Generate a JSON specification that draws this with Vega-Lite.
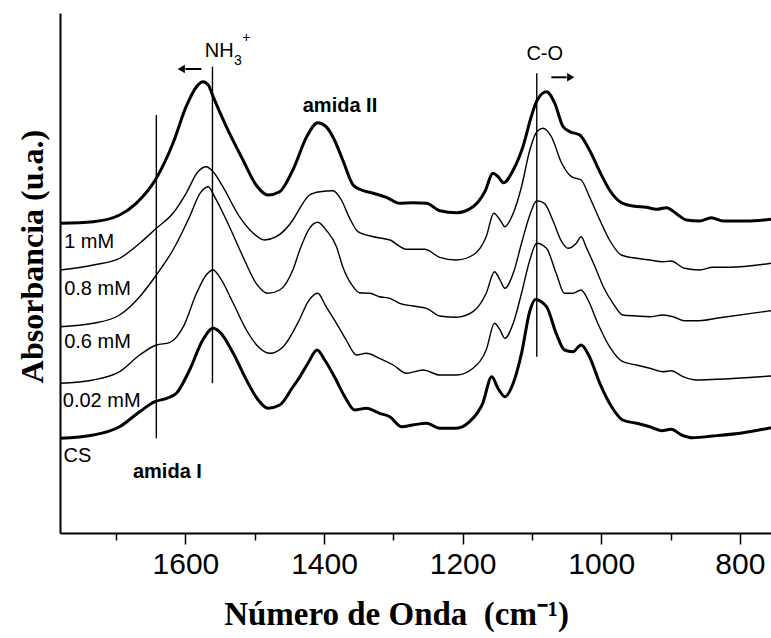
{
  "$schema": "https://vega.github.io/schema/vega-lite/v6.json",
  "width": 711,
  "height": 520,
  "autosize": {"type": "none"},
  "padding": {"left": 60, "top": 13, "right": 0, "bottom": 105},
  "background": "white",
  "config": {"view": {"stroke": null}},
  "datasets": {
    "spectra": [
      {"s":"1 mM","x":1781,"y":309.7},{"s":"1 mM","x":1733,"y":311.3},{"s":"1 mM","x":1695,"y":318},{"s":"1 mM","x":1671,"y":329.7},{"s":"1 mM","x":1642,"y":354.7},{"s":"1 mM","x":1618,"y":389.7},{"s":"1 mM","x":1599,"y":426.3},{"s":"1 mM","x":1584,"y":446.3},{"s":"1 mM","x":1575,"y":451.3},{"s":"1 mM","x":1567,"y":448},{"s":"1 mM","x":1560,"y":436.3},{"s":"1 mM","x":1541,"y":406.3},{"s":"1 mM","x":1517,"y":373},{"s":"1 mM","x":1498,"y":348},{"s":"1 mM","x":1481,"y":338},{"s":"1 mM","x":1464,"y":341.3},{"s":"1 mM","x":1445,"y":363},{"s":"1 mM","x":1425,"y":396.3},{"s":"1 mM","x":1409,"y":410.3},{"s":"1 mM","x":1397,"y":406.3},{"s":"1 mM","x":1385,"y":393},{"s":"1 mM","x":1373,"y":373},{"s":"1 mM","x":1358,"y":348},{"s":"1 mM","x":1346,"y":343},{"s":"1 mM","x":1329,"y":339.7},{"s":"1 mM","x":1310,"y":335.7},{"s":"1 mM","x":1291,"y":329.7},{"s":"1 mM","x":1272,"y":330.3},{"s":"1 mM","x":1252,"y":329.7},{"s":"1 mM","x":1233,"y":322.3},{"s":"1 mM","x":1209,"y":320.3},{"s":"1 mM","x":1185,"y":326.3},{"s":"1 mM","x":1168,"y":341.3},{"s":"1 mM","x":1156,"y":359.7},{"s":"1 mM","x":1149,"y":356.3},{"s":"1 mM","x":1141,"y":350.3},{"s":"1 mM","x":1127,"y":363},{"s":"1 mM","x":1113,"y":386.3},{"s":"1 mM","x":1101,"y":416.3},{"s":"1 mM","x":1093,"y":432},{"s":"1 mM","x":1079,"y":441.3},{"s":"1 mM","x":1067,"y":429.7},{"s":"1 mM","x":1055,"y":406.3},{"s":"1 mM","x":1045,"y":401.3},{"s":"1 mM","x":1031,"y":398},{"s":"1 mM","x":1017,"y":383},{"s":"1 mM","x":1002,"y":361.3},{"s":"1 mM","x":988,"y":343},{"s":"1 mM","x":973,"y":331.3},{"s":"1 mM","x":954,"y":327},{"s":"1 mM","x":935,"y":325.7},{"s":"1 mM","x":920,"y":323.7},{"s":"1 mM","x":906,"y":325.3},{"s":"1 mM","x":891,"y":319},{"s":"1 mM","x":877,"y":313},{"s":"1 mM","x":858,"y":312},{"s":"1 mM","x":841,"y":315.3},{"s":"1 mM","x":824,"y":312},{"s":"1 mM","x":790,"y":312},{"s":"1 mM","x":755,"y":313.7},
      {"s":"0.8 mM","x":1781,"y":263},{"s":"0.8 mM","x":1733,"y":268},{"s":"0.8 mM","x":1695,"y":274.7},{"s":"0.8 mM","x":1666,"y":289.7},{"s":"0.8 mM","x":1642,"y":304.7},{"s":"0.8 mM","x":1618,"y":319.7},{"s":"0.8 mM","x":1599,"y":339.7},{"s":"0.8 mM","x":1582,"y":361.3},{"s":"0.8 mM","x":1570,"y":366.3},{"s":"0.8 mM","x":1560,"y":361.3},{"s":"0.8 mM","x":1546,"y":346.3},{"s":"0.8 mM","x":1522,"y":316.3},{"s":"0.8 mM","x":1502,"y":299.7},{"s":"0.8 mM","x":1486,"y":293},{"s":"0.8 mM","x":1469,"y":296.3},{"s":"0.8 mM","x":1445,"y":313},{"s":"0.8 mM","x":1435,"y":324.7},{"s":"0.8 mM","x":1421,"y":338},{"s":"0.8 mM","x":1406,"y":341.3},{"s":"0.8 mM","x":1387,"y":342.3},{"s":"0.8 mM","x":1375,"y":333},{"s":"0.8 mM","x":1363,"y":314.7},{"s":"0.8 mM","x":1351,"y":301.3},{"s":"0.8 mM","x":1329,"y":296.3},{"s":"0.8 mM","x":1305,"y":293},{"s":"0.8 mM","x":1281,"y":283.7},{"s":"0.8 mM","x":1255,"y":283.7},{"s":"0.8 mM","x":1233,"y":275.7},{"s":"0.8 mM","x":1209,"y":273},{"s":"0.8 mM","x":1185,"y":278},{"s":"0.8 mM","x":1166,"y":296.3},{"s":"0.8 mM","x":1155,"y":319.7},{"s":"0.8 mM","x":1146,"y":313},{"s":"0.8 mM","x":1139,"y":306.3},{"s":"0.8 mM","x":1127,"y":319.7},{"s":"0.8 mM","x":1115,"y":346.3},{"s":"0.8 mM","x":1103,"y":383},{"s":"0.8 mM","x":1093,"y":401.3},{"s":"0.8 mM","x":1084,"y":404.7},{"s":"0.8 mM","x":1072,"y":396.3},{"s":"0.8 mM","x":1057,"y":369.7},{"s":"0.8 mM","x":1043,"y":356.3},{"s":"0.8 mM","x":1029,"y":353},{"s":"0.8 mM","x":1017,"y":336.3},{"s":"0.8 mM","x":1002,"y":313},{"s":"0.8 mM","x":988,"y":293},{"s":"0.8 mM","x":971,"y":278},{"s":"0.8 mM","x":949,"y":274.7},{"s":"0.8 mM","x":930,"y":273},{"s":"0.8 mM","x":911,"y":271.3},{"s":"0.8 mM","x":899,"y":272},{"s":"0.8 mM","x":880,"y":264.7},{"s":"0.8 mM","x":858,"y":263},{"s":"0.8 mM","x":839,"y":265.7},{"s":"0.8 mM","x":815,"y":265.7},{"s":"0.8 mM","x":755,"y":269.7},
      {"s":"0.6 mM","x":1781,"y":206.3},{"s":"0.6 mM","x":1733,"y":209.7},{"s":"0.6 mM","x":1695,"y":218},{"s":"0.6 mM","x":1666,"y":236.3},{"s":"0.6 mM","x":1642,"y":258},{"s":"0.6 mM","x":1618,"y":283},{"s":"0.6 mM","x":1594,"y":316.3},{"s":"0.6 mM","x":1579,"y":339.7},{"s":"0.6 mM","x":1567,"y":346.3},{"s":"0.6 mM","x":1558,"y":336.3},{"s":"0.6 mM","x":1541,"y":313},{"s":"0.6 mM","x":1517,"y":276.3},{"s":"0.6 mM","x":1498,"y":249.7},{"s":"0.6 mM","x":1481,"y":239.7},{"s":"0.6 mM","x":1464,"y":243},{"s":"0.6 mM","x":1445,"y":263},{"s":"0.6 mM","x":1435,"y":283},{"s":"0.6 mM","x":1421,"y":304.7},{"s":"0.6 mM","x":1409,"y":310.7},{"s":"0.6 mM","x":1397,"y":303},{"s":"0.6 mM","x":1382,"y":286.3},{"s":"0.6 mM","x":1373,"y":266.3},{"s":"0.6 mM","x":1358,"y":246.3},{"s":"0.6 mM","x":1349,"y":240.3},{"s":"0.6 mM","x":1334,"y":239.7},{"s":"0.6 mM","x":1320,"y":236.3},{"s":"0.6 mM","x":1305,"y":234.7},{"s":"0.6 mM","x":1291,"y":229.7},{"s":"0.6 mM","x":1272,"y":227},{"s":"0.6 mM","x":1252,"y":224.7},{"s":"0.6 mM","x":1233,"y":217},{"s":"0.6 mM","x":1209,"y":215.7},{"s":"0.6 mM","x":1185,"y":221.3},{"s":"0.6 mM","x":1166,"y":239.7},{"s":"0.6 mM","x":1154,"y":261.3},{"s":"0.6 mM","x":1146,"y":253},{"s":"0.6 mM","x":1139,"y":244.7},{"s":"0.6 mM","x":1127,"y":259.7},{"s":"0.6 mM","x":1115,"y":289.7},{"s":"0.6 mM","x":1103,"y":318},{"s":"0.6 mM","x":1093,"y":332.2},{"s":"0.6 mM","x":1082,"y":329.7},{"s":"0.6 mM","x":1070,"y":313},{"s":"0.6 mM","x":1057,"y":291.3},{"s":"0.6 mM","x":1048,"y":284.7},{"s":"0.6 mM","x":1036,"y":289.7},{"s":"0.6 mM","x":1029,"y":296.3},{"s":"0.6 mM","x":1021,"y":284.7},{"s":"0.6 mM","x":1009,"y":266.3},{"s":"0.6 mM","x":997,"y":246.3},{"s":"0.6 mM","x":983,"y":229.7},{"s":"0.6 mM","x":969,"y":218},{"s":"0.6 mM","x":949,"y":217},{"s":"0.6 mM","x":930,"y":216.3},{"s":"0.6 mM","x":911,"y":218},{"s":"0.6 mM","x":896,"y":216.3},{"s":"0.6 mM","x":880,"y":212.3},{"s":"0.6 mM","x":858,"y":212.3},{"s":"0.6 mM","x":834,"y":214.7},{"s":"0.6 mM","x":755,"y":222.3},
      {"s":"0.02 mM","x":1781,"y":149.7},{"s":"0.02 mM","x":1733,"y":153},{"s":"0.02 mM","x":1695,"y":161.3},{"s":"0.02 mM","x":1666,"y":178},{"s":"0.02 mM","x":1642,"y":188},{"s":"0.02 mM","x":1623,"y":190.3},{"s":"0.02 mM","x":1603,"y":206.3},{"s":"0.02 mM","x":1584,"y":239.7},{"s":"0.02 mM","x":1570,"y":258},{"s":"0.02 mM","x":1560,"y":263},{"s":"0.02 mM","x":1551,"y":256.3},{"s":"0.02 mM","x":1531,"y":229.7},{"s":"0.02 mM","x":1512,"y":203},{"s":"0.02 mM","x":1495,"y":186.3},{"s":"0.02 mM","x":1478,"y":179.7},{"s":"0.02 mM","x":1459,"y":186.3},{"s":"0.02 mM","x":1435,"y":214},{"s":"0.02 mM","x":1423,"y":231.3},{"s":"0.02 mM","x":1409,"y":239.7},{"s":"0.02 mM","x":1397,"y":226.3},{"s":"0.02 mM","x":1382,"y":209.7},{"s":"0.02 mM","x":1368,"y":193},{"s":"0.02 mM","x":1353,"y":178},{"s":"0.02 mM","x":1339,"y":179.7},{"s":"0.02 mM","x":1320,"y":174.7},{"s":"0.02 mM","x":1300,"y":168},{"s":"0.02 mM","x":1281,"y":159.7},{"s":"0.02 mM","x":1257,"y":163},{"s":"0.02 mM","x":1233,"y":158},{"s":"0.02 mM","x":1209,"y":158},{"s":"0.02 mM","x":1185,"y":164.7},{"s":"0.02 mM","x":1166,"y":183},{"s":"0.02 mM","x":1154,"y":209.7},{"s":"0.02 mM","x":1146,"y":203},{"s":"0.02 mM","x":1139,"y":194.7},{"s":"0.02 mM","x":1127,"y":209.7},{"s":"0.02 mM","x":1115,"y":239.7},{"s":"0.02 mM","x":1103,"y":273},{"s":"0.02 mM","x":1093,"y":289.7},{"s":"0.02 mM","x":1079,"y":284.7},{"s":"0.02 mM","x":1065,"y":259.7},{"s":"0.02 mM","x":1053,"y":239.7},{"s":"0.02 mM","x":1041,"y":239.7},{"s":"0.02 mM","x":1029,"y":243},{"s":"0.02 mM","x":1019,"y":233},{"s":"0.02 mM","x":1005,"y":209.7},{"s":"0.02 mM","x":988,"y":186.3},{"s":"0.02 mM","x":969,"y":171.3},{"s":"0.02 mM","x":949,"y":168},{"s":"0.02 mM","x":930,"y":164.7},{"s":"0.02 mM","x":911,"y":161.3},{"s":"0.02 mM","x":899,"y":162.3},{"s":"0.02 mM","x":882,"y":156.3},{"s":"0.02 mM","x":863,"y":153},{"s":"0.02 mM","x":834,"y":153.7},{"s":"0.02 mM","x":755,"y":157},
      {"s":"CS","x":1781,"y":94.7},{"s":"CS","x":1733,"y":98},{"s":"CS","x":1695,"y":106.3},{"s":"CS","x":1666,"y":121.3},{"s":"CS","x":1644,"y":131.3},{"s":"CS","x":1627,"y":134.7},{"s":"CS","x":1613,"y":139.7},{"s":"CS","x":1594,"y":163},{"s":"CS","x":1575,"y":193},{"s":"CS","x":1560,"y":204.7},{"s":"CS","x":1551,"y":201.3},{"s":"CS","x":1531,"y":179.7},{"s":"CS","x":1512,"y":153},{"s":"CS","x":1495,"y":133},{"s":"CS","x":1481,"y":124.7},{"s":"CS","x":1464,"y":128},{"s":"CS","x":1445,"y":146},{"s":"CS","x":1435,"y":156},{"s":"CS","x":1423,"y":170},{"s":"CS","x":1410,"y":183},{"s":"CS","x":1399,"y":173},{"s":"CS","x":1385,"y":156.3},{"s":"CS","x":1370,"y":136.3},{"s":"CS","x":1356,"y":123},{"s":"CS","x":1339,"y":124.7},{"s":"CS","x":1320,"y":119.7},{"s":"CS","x":1305,"y":116.3},{"s":"CS","x":1288,"y":106.3},{"s":"CS","x":1272,"y":108},{"s":"CS","x":1252,"y":109.7},{"s":"CS","x":1233,"y":104.7},{"s":"CS","x":1209,"y":104.7},{"s":"CS","x":1190,"y":111.3},{"s":"CS","x":1171,"y":129.7},{"s":"CS","x":1158,"y":156.3},{"s":"CS","x":1149,"y":144.7},{"s":"CS","x":1139,"y":136.3},{"s":"CS","x":1127,"y":149.7},{"s":"CS","x":1115,"y":179.7},{"s":"CS","x":1103,"y":222},{"s":"CS","x":1095,"y":233.5},{"s":"CS","x":1079,"y":226.3},{"s":"CS","x":1065,"y":199.7},{"s":"CS","x":1053,"y":183},{"s":"CS","x":1041,"y":181.3},{"s":"CS","x":1029,"y":188},{"s":"CS","x":1017,"y":176.3},{"s":"CS","x":1002,"y":149.7},{"s":"CS","x":985,"y":126.3},{"s":"CS","x":969,"y":113},{"s":"CS","x":949,"y":109.7},{"s":"CS","x":930,"y":106.3},{"s":"CS","x":913,"y":102.3},{"s":"CS","x":899,"y":103.7},{"s":"CS","x":884,"y":98},{"s":"CS","x":868,"y":95.3},{"s":"CS","x":839,"y":97},{"s":"CS","x":795,"y":100.3},{"s":"CS","x":755,"y":105.3}
    ],
    "vlines": [
      {"x":1642,"y":94.7,"y2":418},
      {"x":1561,"y":149.7,"y2":466.3},
      {"x":1093,"y":176.3,"y2":459.7}
    ],
    "shafts": [
      {"x":1577,"x2":1600,"y":464},
      {"x":1072,"x2":1050,"y":455.7}
    ],
    "heads": [
      {"dir":"left","x":1606,"y":464},
      {"dir":"right","x":1044,"y":455.7}
    ],
    "serieslabels": [
      {"t":"1 mM","x":1775,"y":285},
      {"t":"0.8 mM","x":1775,"y":238},
      {"t":"0.6 mM","x":1775,"y":185},
      {"t":"0.02 mM","x":1777,"y":126},
      {"t":"CS","x":1776,"y":71}
    ],
    "bands": [
      {"t":"amida II","x":1377,"y":421},
      {"t":"amida I","x":1626,"y":55}
    ],
    "peaks": [
      {"t":"NH","x":1572,"y":476},
      {"t":"C-O","x":1108,"y":473}
    ],
    "scripts": [
      {"t":"3","x":1530,"y":468},
      {"t":"+","x":1518,"y":491}
    ]
  },
  "layer": [
    {
      "data": {"name": "spectra"},
      "transform": [{"filter": {"field": "s", "oneOf": ["0.8 mM", "0.6 mM", "0.02 mM"]}}],
      "mark": {"type": "line", "color": "black", "strokeWidth": 1.4, "interpolate": "monotone"},
      "encoding": {
        "x": {"field": "x", "type": "quantitative",
          "scale": {"domain": [755, 1781], "reverse": true, "nice": false, "zero": false},
          "axis": {
            "title": "Número de Onda\u00a0\u00a0(cm⁻¹)",
            "titleFont": "Liberation Serif", "titleFontWeight": "bold", "titleFontSize": 33, "titleColor": "black",
            "titleX": 336, "titleY": 91, "titleAlign": "center", "titleBaseline": "alphabetic", "titleAnchor": null,
            "values": [1700, 1600, 1500, 1400, 1300, 1200, 1100, 1000, 900, 800],
            "labelExpr": "datum.value % 200 === 0 ? datum.label : ''",
            "labelFont": "Liberation Sans", "labelFontSize": 30, "labelColor": "black", "labelPadding": 5,
            "labelFlush": false, "labelOverlap": false,
            "tickSize": {"condition": {"test": "datum.value % 200 === 0", "value": 11}, "value": 7},
            "tickColor": "black", "tickWidth": 1.5,
            "domainColor": "black", "domainWidth": 2, "grid": false, "format": "d"
          }
        },
        "y": {"field": "y", "type": "quantitative",
          "scale": {"domain": [0, 520], "nice": false, "zero": false},
          "axis": {
            "title": "Absorbancia (u.a.)",
            "titleFont": "Liberation Serif", "titleFontWeight": "bold", "titleFontSize": 32, "titleColor": "black",
            "titleAngle": 270, "titleX": -18, "titleY": 243, "titleAlign": "center", "titleBaseline": "alphabetic", "titleAnchor": null,
            "labels": false, "ticks": false, "grid": false,
            "domainColor": "black", "domainWidth": 2
          }
        },
        "detail": {"field": "s"}
      }
    },
    {
      "data": {"name": "spectra"},
      "transform": [{"filter": {"field": "s", "oneOf": ["1 mM", "CS"]}}],
      "mark": {"type": "line", "color": "black", "strokeWidth": 3, "interpolate": "monotone"},
      "encoding": {
        "x": {"field": "x", "type": "quantitative"},
        "y": {"field": "y", "type": "quantitative"},
        "detail": {"field": "s"}
      }
    },
    {
      "data": {"name": "vlines"},
      "mark": {"type": "rule", "color": "black", "strokeWidth": 1.4},
      "encoding": {
        "x": {"field": "x", "type": "quantitative"},
        "y": {"field": "y", "type": "quantitative"},
        "y2": {"field": "y2"}
      }
    },
    {
      "data": {"name": "shafts"},
      "mark": {"type": "rule", "color": "black", "strokeWidth": 2},
      "encoding": {
        "x": {"field": "x", "type": "quantitative"},
        "x2": {"field": "x2"},
        "y": {"field": "y", "type": "quantitative"}
      }
    },
    {
      "data": {"name": "heads"},
      "mark": {"type": "point", "filled": true, "color": "black", "size": 70, "opacity": 1},
      "encoding": {
        "x": {"field": "x", "type": "quantitative"},
        "y": {"field": "y", "type": "quantitative"},
        "shape": {"field": "dir", "type": "nominal", "scale": {"domain": ["left", "right"], "range": ["triangle-left", "triangle-right"]}, "legend": null}
      }
    },
    {
      "data": {"name": "serieslabels"},
      "mark": {"type": "text", "font": "Liberation Sans", "fontSize": 20, "align": "left", "baseline": "alphabetic", "color": "black"},
      "encoding": {
        "x": {"field": "x", "type": "quantitative"},
        "y": {"field": "y", "type": "quantitative"},
        "text": {"field": "t"}
      }
    },
    {
      "data": {"name": "bands"},
      "mark": {"type": "text", "font": "Liberation Sans", "fontSize": 20, "fontWeight": "bold", "align": "center", "baseline": "alphabetic", "color": "black"},
      "encoding": {
        "x": {"field": "x", "type": "quantitative"},
        "y": {"field": "y", "type": "quantitative"},
        "text": {"field": "t"}
      }
    },
    {
      "data": {"name": "peaks"},
      "mark": {"type": "text", "font": "Liberation Sans", "fontSize": 20, "align": "left", "baseline": "alphabetic", "color": "black"},
      "encoding": {
        "x": {"field": "x", "type": "quantitative"},
        "y": {"field": "y", "type": "quantitative"},
        "text": {"field": "t"}
      }
    },
    {
      "data": {"name": "scripts"},
      "mark": {"type": "text", "font": "Liberation Sans", "fontSize": 14, "align": "left", "baseline": "alphabetic", "color": "black"},
      "encoding": {
        "x": {"field": "x", "type": "quantitative"},
        "y": {"field": "y", "type": "quantitative"},
        "text": {"field": "t"}
      }
    }
  ]
}
